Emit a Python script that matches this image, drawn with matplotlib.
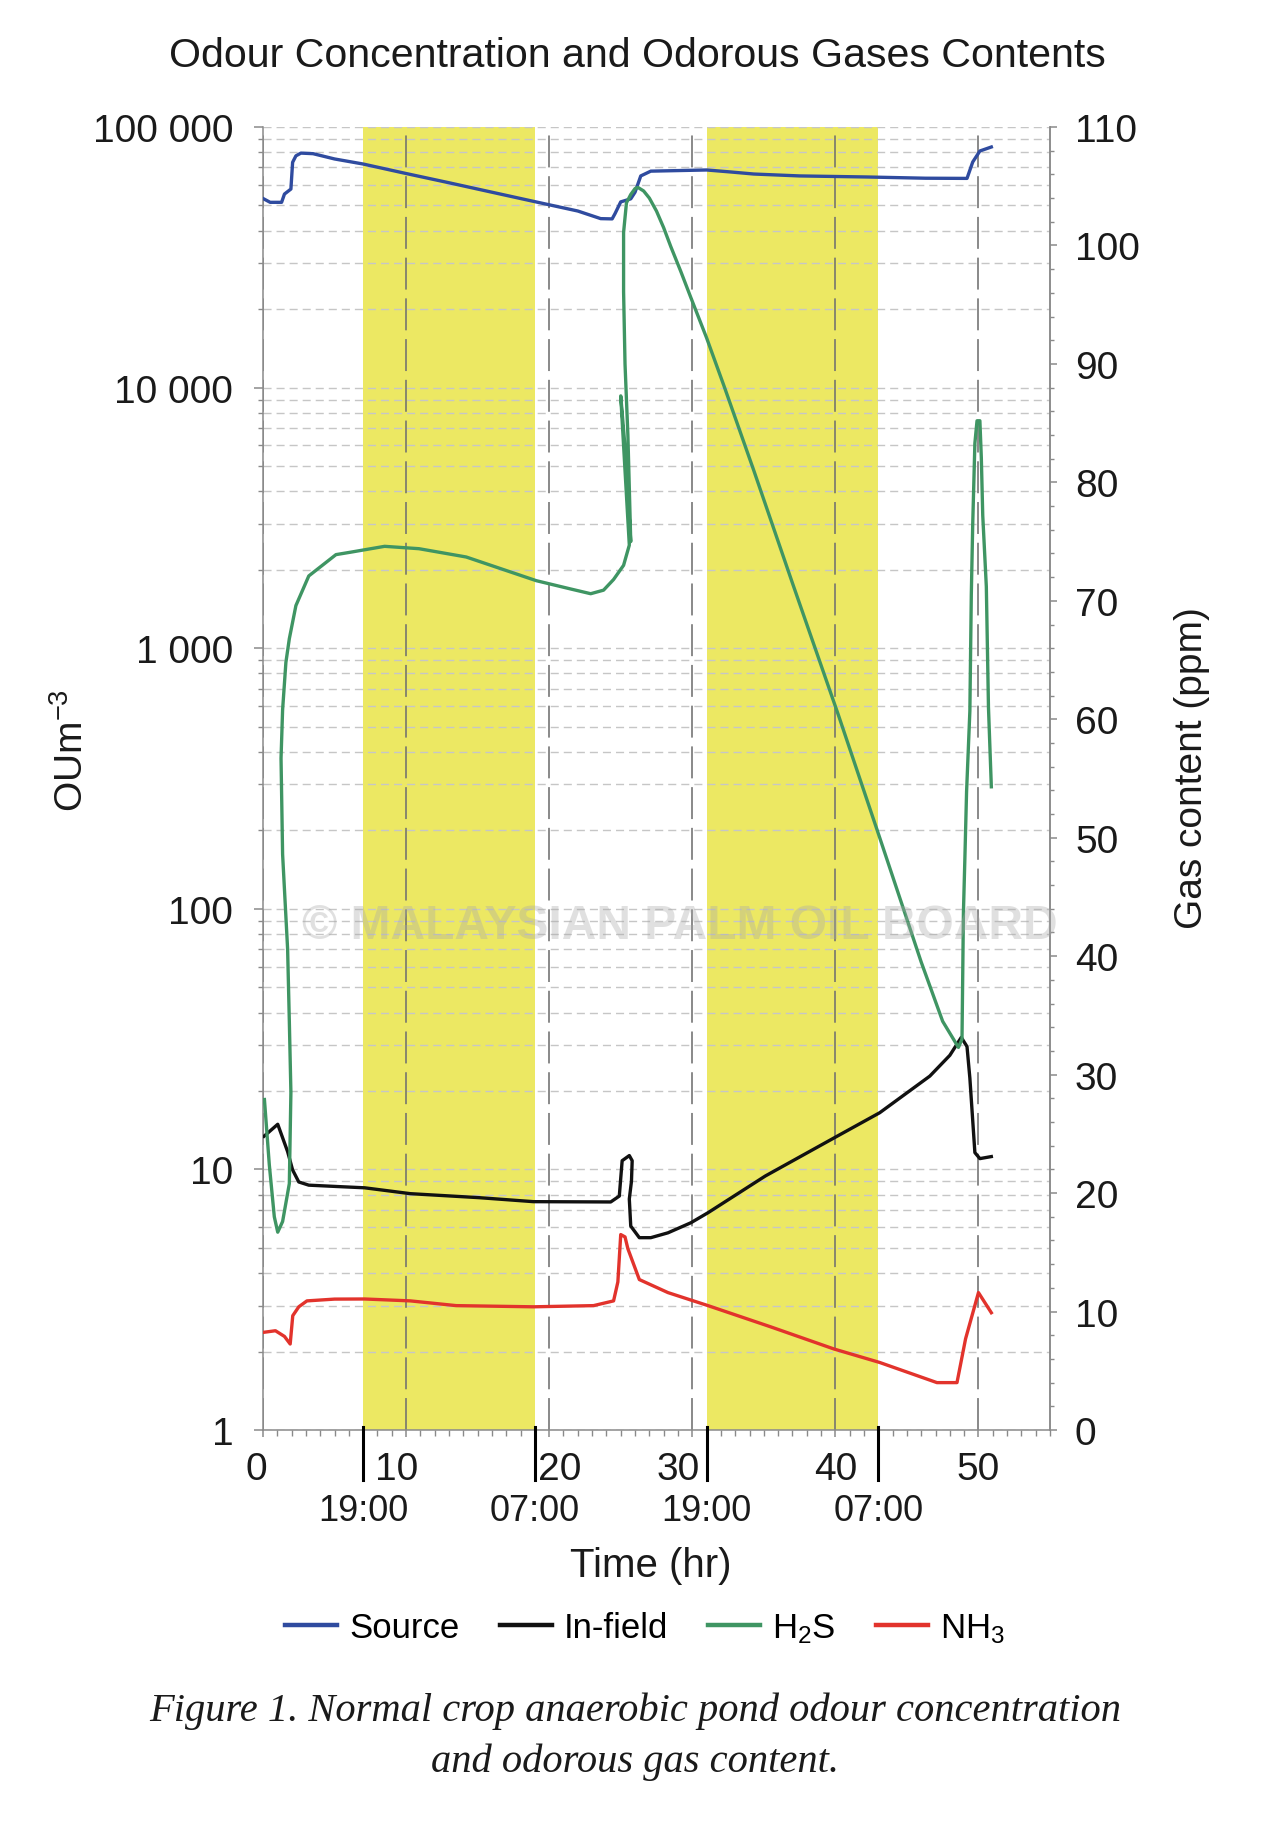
import matplotlib
matplotlib.use("Agg")
import matplotlib.pyplot as plt
import matplotlib.transforms as mtransforms
from matplotlib.ticker import FixedLocator, FixedFormatter, MultipleLocator, LogLocator, NullFormatter
import numpy as np

plt.rcParams['font.family'] = ['Liberation Sans', 'DejaVu Sans']
plt.rcParams['mathtext.fontset'] = 'custom'
plt.rcParams['mathtext.rm'] = 'Liberation Sans'
plt.rcParams['mathtext.it'] = 'Liberation Sans:italic'
plt.rcParams['mathtext.bf'] = 'Liberation Sans:bold'

# ---------------- data ----------------
source_t = [0.05, 0.5, 1.3, 1.5, 1.95, 2.07, 2.3, 2.65, 3.5, 5.0, 7.0, 10.0, 13.0, 16.0, 19.0, 22.0,
            23.6, 24.4, 24.6, 25.0, 25.7, 26.0, 26.4, 27.1, 31.0, 32.7, 34.3, 37.5, 42.2, 46.3, 49.2,
            49.6, 50.1, 50.9]
source_v = [53000, 51400, 51400, 55300, 57800, 73200, 77500, 79400, 79000, 75400, 72100, 66300, 61100,
            56200, 51700, 47600, 44500, 44400, 46500, 51600, 53000, 56200, 64900, 67700, 68400, 67200,
            66000, 64900, 64300, 63600, 63500, 73400, 80900, 83800]

infield_t = [0.07, 1.03, 1.72, 2.07, 2.5, 3.2, 5.1, 7.1, 10.3, 15.1, 18.9, 24.3, 24.9, 25.1, 25.6, 25.8,
             25.75, 25.6, 25.7, 26.3, 27.1, 28.3, 29.9, 31.1, 35.1, 39.9, 43.1, 46.6, 48.0, 48.8, 49.2,
             49.4, 49.75, 50.1, 50.9]
infield_v = [13.4, 14.9, 11.7, 9.95, 8.95, 8.7, 8.6, 8.5, 8.07, 7.79, 7.52, 7.5, 7.9, 10.8, 11.3, 10.8,
             9.0, 7.7, 6.06, 5.47, 5.47, 5.71, 6.24, 6.82, 9.43, 13.2, 16.5, 22.8, 27.4, 32.1, 29.6,
             22.4, 11.6, 11.0, 11.2]

h2s_t = [0.1, 0.44, 0.79, 1.03, 1.37, 1.84, 1.95, 1.84, 1.72, 1.37, 1.26, 1.37, 1.6, 1.84, 2.3, 3.2,
         5.1, 6.1, 8.5, 10.9, 14.2, 19.1, 21.5, 22.9, 23.8, 24.5, 25.2, 25.6, 25.0, 25.3, 25.5, 25.7,
         25.5, 25.3, 25.2, 25.2, 25.4, 25.7, 26.0, 26.2, 26.6, 27.0, 27.5, 28.0, 28.5, 29.2, 29.9, 31.0,
         32.2, 34.3, 37.0, 40.2, 43.1, 46.0, 47.5, 48.6, 48.85, 48.95, 49.05, 49.17, 49.4, 49.5, 49.6,
         49.75, 49.9, 50.1, 50.2, 50.3, 50.55, 50.7, 50.9]
h2s_v = [27.9, 22.4, 18.0, 16.7, 17.6, 20.8, 28.5, 34.5, 40.6, 48.6, 56.7, 60.8, 64.8, 66.8, 69.6, 72.1,
         73.9, 74.1, 74.6, 74.4, 73.7, 71.7, 71.0, 70.6, 70.9, 71.8, 73.0, 74.7, 87.3, 83.0, 79.0, 75.0,
         84.0, 90.0, 96.1, 101.1, 103.6, 104.3, 104.8, 104.9, 104.6, 104.0, 102.9, 101.5, 99.9, 97.8,
         95.6, 92.2, 88.2, 81.0, 71.5, 60.4, 50.0, 39.5, 34.5, 32.3, 33.0, 43.7, 48.2, 53.9, 60.7, 70.5,
         76.5, 83.3, 85.2, 85.2, 82.1, 77.2, 71.2, 61.0, 54.3]

nh3_t = [0.07, 0.87, 1.5, 1.9, 2.08, 2.5, 3.07, 5.0, 7.1, 10.3, 13.5, 18.9, 23.1, 24.5, 24.8, 25.0, 25.3,
         25.5, 26.3, 28.3, 31.1, 35.5, 39.9, 43.1, 47.1, 48.5, 49.1, 50.0, 50.9]
nh3_v = [8.25, 8.38, 7.9, 7.26, 9.65, 10.4, 10.9, 11.05, 11.06, 10.9, 10.5, 10.4, 10.5, 10.9, 12.5, 16.5,
         16.3, 15.3, 12.7, 11.6, 10.5, 8.7, 6.84, 5.7, 4.0, 4.0, 7.7, 11.6, 9.9]

night_periods = [(7, 19), (31, 43)]
night_bounds = [7, 19, 31, 43]
clock_labels = ['19:00', '07:00', '19:00', '07:00']

x_ticks = [0, 10, 20, 30, 40, 50]
x_tick_labels = ['0', '10', '20', '30', '40', '50']
x_label_shift_px = [-7, -9, 11, -14, 0, 0]
left_ticks = [1, 10, 100, 1000, 10000, 100000]
left_tick_labels = ['1', '10', '100', '1 000', '10 000', '100 000']
right_ticks = list(range(0, 111, 10))

series_names = ['Source', 'In-field', 'H$_2$S', 'NH$_3$']
series_colors = ['#2f4b9f', '#111111', '#3f9563', '#e2332c']

# ---------------- figure ----------------
W, H = 1264, 1824
fig = plt.figure(figsize=(W / 100, H / 100), dpi=100)
L, R, T, B = 263, 1050, 128, 1431
ax = fig.add_axes([L / W, 1 - B / H, (R - L) / W, (B - T) / H])
ax2 = ax.twinx()

ax.set_yscale('log')
ax.set_ylim(1, 100000)
ax.set_xlim(0, 55)
ax2.set_ylim(0, 110)
ax.set_axisbelow(True)

for a, b in night_periods:
    ax.axvspan(a, b, color='#ece863', zorder=0.1, lw=0)

gray = '#8a8a8a'
ax.yaxis.set_major_locator(FixedLocator(left_ticks))
ax.yaxis.set_major_formatter(FixedFormatter(left_tick_labels))
ax.yaxis.set_minor_locator(LogLocator(base=10, subs=np.arange(2, 10)))
ax.yaxis.set_minor_formatter(NullFormatter())
ax.yaxis.grid(True, which='both', color='#c6c6c6', linestyle=(0, (5.8, 3.6)), lw=1.0)

ax.xaxis.set_major_locator(FixedLocator(x_ticks))
ax.xaxis.set_major_formatter(FixedFormatter(x_tick_labels))
ax.xaxis.set_minor_locator(MultipleLocator(1))
ax.xaxis.grid(True, which='major', color='#707070', linestyle=(0, (20, 5.5)), lw=1.15)

ax.tick_params(axis='y', which='major', direction='out', length=6.5, width=1.1, color=gray,
               labelsize=28, pad=15, labelcolor='#1a1a1a')
ax.tick_params(axis='y', which='minor', direction='out', length=3.6, width=1.0, color=gray)
ax.tick_params(axis='x', which='major', direction='out', length=5, width=1.1, color=gray,
               labelsize=28, pad=10, labelcolor='#1a1a1a')
ax.tick_params(axis='x', which='minor', direction='out', length=4, width=1.0, color=gray)

ax2.yaxis.set_major_locator(FixedLocator(right_ticks))
ax2.yaxis.set_minor_locator(MultipleLocator(2))
ax2.tick_params(axis='y', which='major', direction='out', length=5, width=1.1, color=gray,
                labelsize=28, pad=13, labelcolor='#1a1a1a')
ax2.tick_params(axis='y', which='minor', direction='out', length=3, width=1.0, color=gray)

for a in (ax, ax2):
    a.spines['top'].set_visible(False)
for s in ('left', 'bottom', 'right'):
    ax.spines[s].set_color(gray)
    ax.spines[s].set_linewidth(1.1)
ax2.spines['left'].set_visible(False)
ax2.spines['bottom'].set_visible(False)
ax2.spines['right'].set_color(gray)
ax2.spines['right'].set_linewidth(1.1)

# shift x tick labels slightly (as in the reference)
for lab, dx in zip(ax.xaxis.get_majorticklabels(), x_label_shift_px):
    lab.set_transform(lab.get_transform() + mtransforms.ScaledTranslation(dx / 100, 0, fig.dpi_scale_trans))

lw = 2.4
l1, = ax.plot(source_t, source_v, color=series_colors[0], lw=lw, zorder=3)
l2, = ax.plot(infield_t, infield_v, color=series_colors[1], lw=lw, zorder=3)
l3, = ax2.plot(h2s_t, h2s_v, color=series_colors[2], lw=lw, zorder=3)
l4, = ax2.plot(nh3_t, nh3_v, color=series_colors[3], lw=lw, zorder=3)

# day/night boundary marks and clock labels
xtr = ax.get_xaxis_transform()
for h, lab in zip(night_bounds, clock_labels):
    ax.plot([h, h], [0.002, -0.038], transform=xtr, color='black', lw=2.2, clip_on=False, zorder=5)
    ax.text(h, -0.0615, lab, transform=xtr, ha='center', va='center', fontsize=26, color='#1a1a1a')

# titles and labels
fig.text(637 / W, 1 - 56 / H, 'Odour Concentration and Odorous Gases Contents', ha='center', va='center',
         fontsize=29.6, color='#1a1a1a')
fig.text(72 / W, 1 - 751 / H, 'OUm$^{-3}$', rotation=90, ha='center', va='center', fontsize=28,
         color='#1a1a1a')
fig.text(1192 / W, 1 - 768 / H, 'Gas content (ppm)', rotation=90, ha='center', va='center', fontsize=28,
         color='#1a1a1a')
fig.text(651 / W, 1 - 1566 / H, 'Time (hr)', ha='center', va='center', fontsize=29, color='#1a1a1a')

leg = fig.legend([l1, l2, l3, l4], series_names, loc='center', bbox_to_anchor=(645 / W, 1 - 1629 / H),
                 ncol=4, frameon=False, fontsize=25, handlelength=1.5, handletextpad=0.35,
                 columnspacing=1.15)
for hl in leg.get_lines():
    hl.set_linewidth(3.2)

cap_kw = dict(ha='center', va='center', fontsize=29.2, style='italic', family='Liberation Serif',
              color='#1a1a1a')
fig.text(635 / W, 1 - 1711 / H, 'Figure 1. Normal crop anaerobic pond odour concentration', **cap_kw)
fig.text(635 / W, 1 - 1762 / H, 'and odorous gas content.', **cap_kw)

# watermark
fig.text(680 / W, 1 - 927 / H, '\u00a9 MALAYSIAN PALM OIL BOARD', ha='center', va='center', fontsize=34.5,
         fontweight='bold', color='#a8a8a8', alpha=0.35, zorder=10)

fig.savefig('out.png', dpi=100)
